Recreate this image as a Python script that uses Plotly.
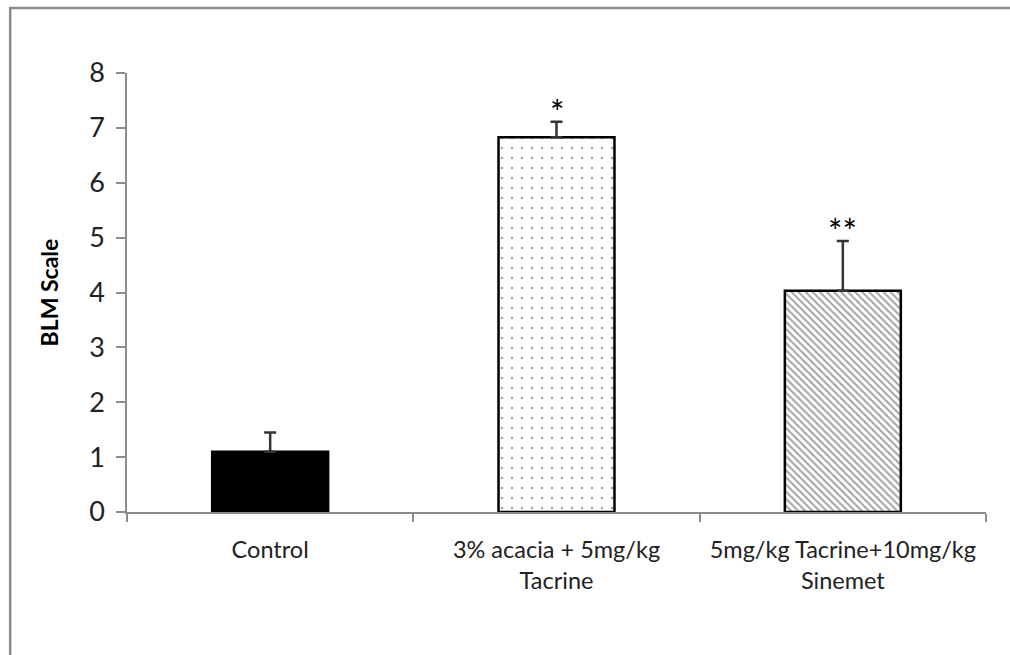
import plotly.graph_objects as go

# BLM scale scores per treatment group (mean with upper SEM)
groups = ["Control", "3% acacia + 5mg/kg<br>Tacrine", "5mg/kg Tacrine+10mg/kg<br>Sinemet"]
means = [1.10, 6.83, 4.03]
errors = [0.35, 0.28, 0.91]
significance = ["", "*", "**"]
y_ticks = [0, 1, 2, 3, 4, 5, 6, 7, 8]

fill_colors = ["black", "white", "white"]
patterns = ["", ".", "\\"]

FONT = "Lato"
AXIS_GREY = "#8c8c8c"

fig = go.Figure()
fig.add_trace(go.Bar(
    x=groups,
    y=means,
    width=0.405,
    marker=dict(
        color=fill_colors,
        line=dict(color="black", width=2.5),
        pattern=dict(shape=patterns, fgcolor="black", bgcolor="white",
                     size=[8, 10, 5], solidity=[0.3, 0.05, 0.4]),
    ),
    error_y=dict(type="data", symmetric=False, array=errors,
                 arrayminus=[0, 0, 0], color="#333333", thickness=2.5, width=6),
    showlegend=False,
))

for g, m, e, s in zip(groups, means, errors, significance):
    if s:
        fig.add_annotation(x=g, y=m + e, text=s, showarrow=False,
                           yanchor="bottom", yshift=-12,
                           font=dict(family=FONT, size=34, color="black"))

# outer chart frame
fig.add_shape(type="rect", xref="paper", yref="paper",
              x0=-0.136, x1=1.3, y0=-0.6, y1=1.148,
              line=dict(color=AXIS_GREY, width=2.5), layer="below")

fig.update_layout(
    width=1010, height=655,
    margin=dict(l=127, r=24, t=73, b=143),
    paper_bgcolor="white", plot_bgcolor="white",
    bargap=0.595,
    font=dict(family=FONT, color="black"),
    xaxis=dict(
        range=[-0.5, 2.5], showline=True, linecolor=AXIS_GREY, linewidth=1.5,
        ticks="outside", tickson="boundaries", ticklen=8, tickcolor=AXIS_GREY,
        tickwidth=1.5, tickfont=dict(family=FONT, size=23.5, color="#222222"),
        ticklabelstandoff=16,
        showgrid=False, zeroline=False,
    ),
    yaxis=dict(
        range=[0, 8], tickvals=y_ticks, showline=True, linecolor=AXIS_GREY,
        linewidth=1.5, ticks="outside", ticklen=9, tickcolor=AXIS_GREY,
        tickwidth=1.5, tickfont=dict(family=FONT, size=27, color="#222222"),
        ticklabelstandoff=6,
        showgrid=False, zeroline=False,
        title=dict(text="<b>BLM Scale</b>", font=dict(family=FONT, size=23, color="black"),
                   standoff=24),
    ),
)

fig.write_html("out.html")
